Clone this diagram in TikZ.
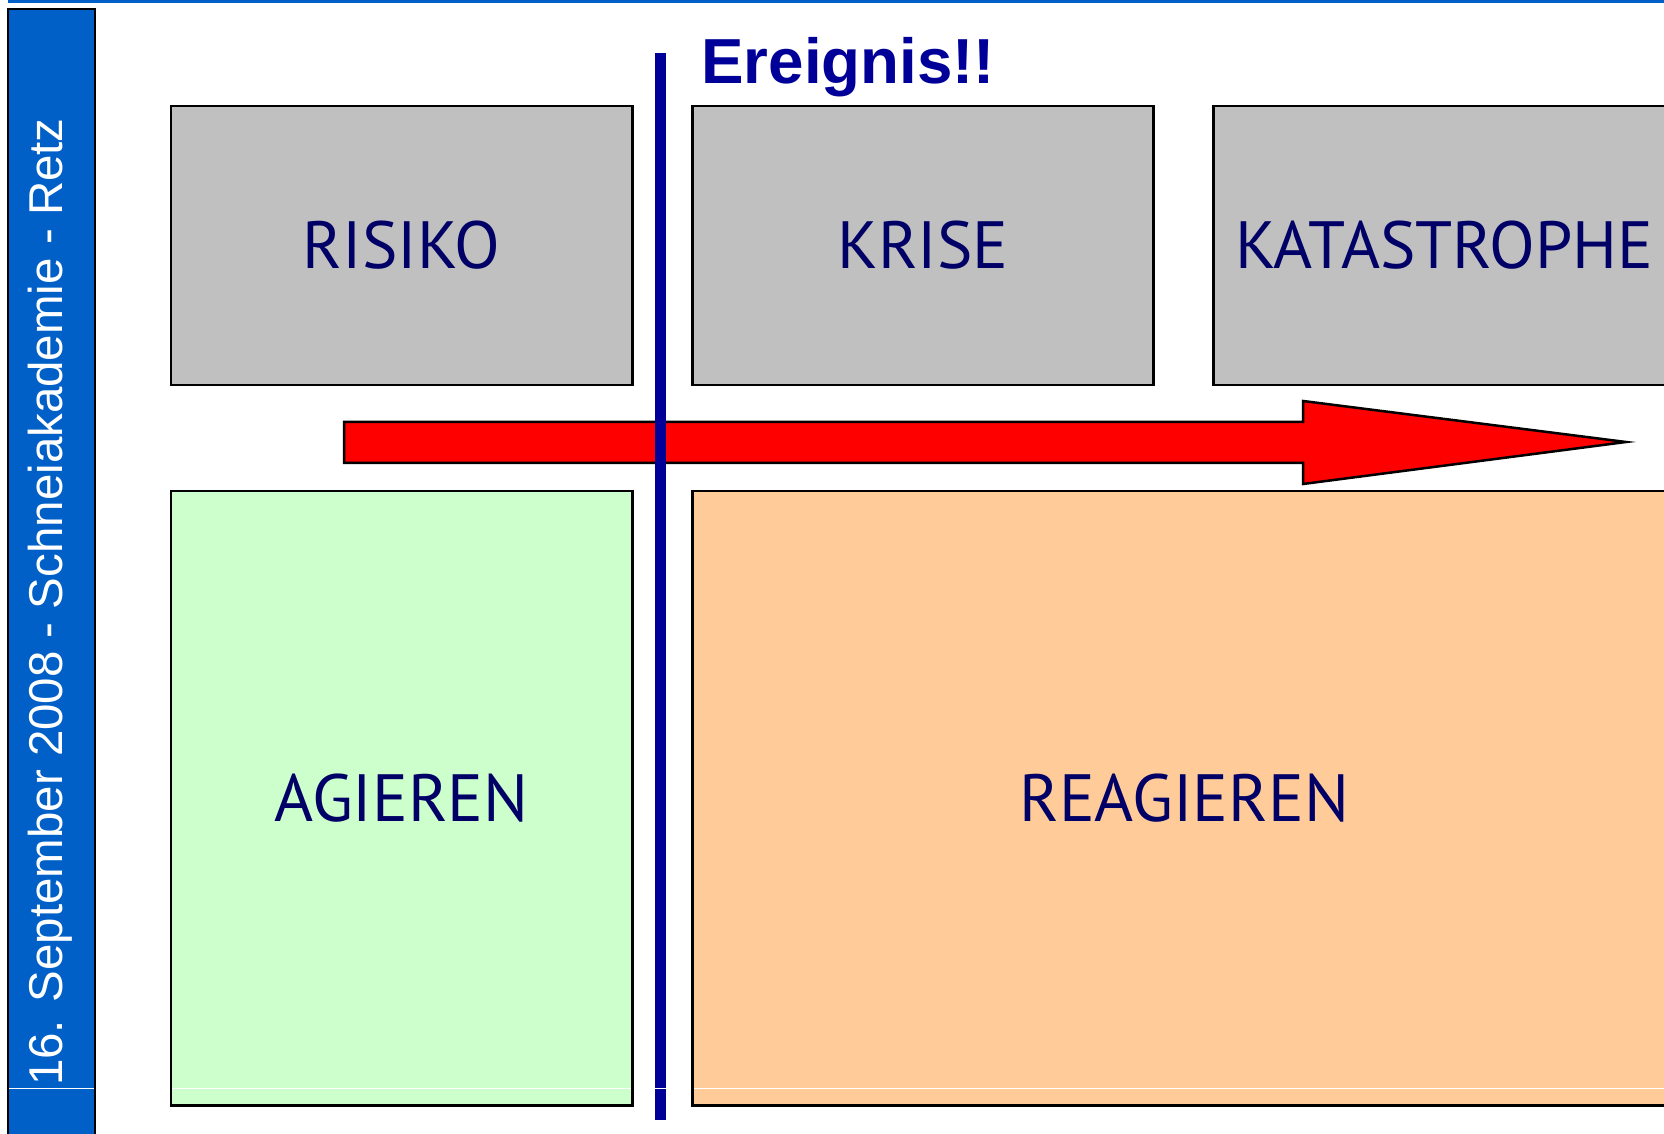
\documentclass[tikz,border=0pt]{standalone}
\usepackage{fontspec}
\newfontfamily\boxfont{PT Sans}
\newfontfamily\slidefont{Liberation Sans}
\usetikzlibrary{positioning}
\definecolor{slideblue}{RGB}{0,96,200}
\definecolor{eventblue}{RGB}{0,0,153}
\definecolor{labelblue}{RGB}{0,0,102}
\definecolor{phasegray}{RGB}{192,192,192}
\definecolor{actgreen}{RGB}{204,255,204}
\definecolor{reactorange}{RGB}{255,204,153}
\tikzset{
  phase/.style={draw=black, line width=0.025cm, inner sep=0pt, outer sep=0pt,
    minimum width=4.61cm, minimum height=2.79cm, text=labelblue,
    font=\boxfont\fontsize{19}{22}\selectfont},
  mode/.style={phase, minimum height=6.14cm},
}

\begin{document}
\begin{tikzpicture}[x=0.01cm, y=-0.01cm]
			%%%%% START %%%%%
			\useasboundingbox (0,0) rectangle (1664,1134);
			
			\fill[slideblue] (8,0) rectangle (1664,3);
			\draw[fill=slideblue, line width=0.025cm] (8,9) rectangle (95,1145);
			\node[rotate=90, anchor=base, text=white, font=\slidefont\fontsize{13.5}{16}\selectfont] (datum) at (62,602) {16. September 2008 - Schneiakademie - Retz};
			
			\node[phase, fill=phasegray, anchor=north west] (risiko) at (171,106) {RISIKO};
			\node[phase, fill=phasegray, right=0.6cm of risiko] (krise) {KRISE};
			\node[phase, fill=phasegray, right=0.6cm of krise] (katastrophe) {KATASTROPHE};
			
			\node[mode, fill=actgreen, below=1.06cm of risiko] (agieren) {AGIEREN};
			\node[mode, fill=reactorange, minimum width=9.83cm, right=0.6cm of agieren.north east, anchor=north west] (reagieren) {REAGIEREN};
			
			\draw[fill=red, line width=0.025cm] (344,422) -- (1303,422) -- (1303,401) -- (1626,442) -- (1303,484) -- (1303,463) -- (344,463) -- cycle;
			
			\coordinate (eventtop) at (660,53);
			\coordinate (eventbottom) at (660,1120);
			\draw[eventblue, line width=0.11cm] (eventtop) -- (eventbottom);
			\node[anchor=base west, text=eventblue, font=\slidefont\bfseries\fontsize{18.1}{22}\selectfont] (ereignis) at (689,84) {Ereignis!!};
			
			\draw[white, line width=0.01cm] (7,1088) -- (1664,1088);
			\draw[line width=0.025cm] (8,1080) -- (8,1145) (95,1080) -- (95,1145);
			\foreach \n in {agieren,reagieren}
				\draw[line width=0.025cm] (\n.south west) rectangle (\n.north east);
			
			%%%%% END %%%%%
\end{tikzpicture}
\end{document}
